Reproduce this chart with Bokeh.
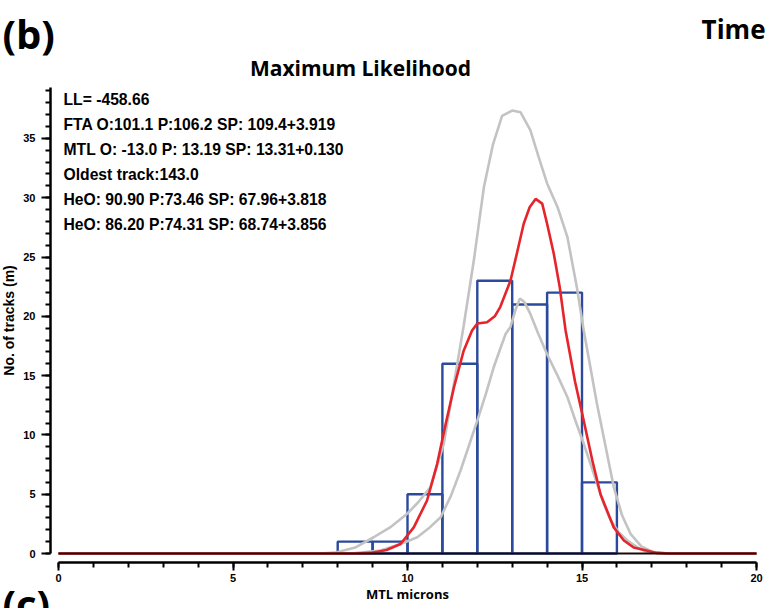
from bokeh.plotting import figure
from bokeh.models import Label, Range1d, SingleIntervalTicker, LinearAxis
from bokeh.embed import file_html
from bokeh.resources import INLINE

# ---- data ----
bin_left = [8, 9, 10, 11, 12, 13, 14, 15]
bin_right = [9, 10, 11, 12, 13, 14, 15, 16]
counts = [1, 1, 5, 16, 23, 21, 22, 6]

gray_big_x = [0, 7.5, 7.98, 8.5, 9.03, 9.5, 9.99, 10.3, 10.66, 11.04, 11.33, 11.61, 11.9, 12.19,
              12.45, 12.71, 13.0, 13.24, 13.52, 13.75, 14.0, 14.3, 14.58, 14.85, 15.05, 15.43,
              15.91, 16.15, 16.39, 16.7, 17.06, 17.5, 20]
gray_big_y = [0, 0, 0.1, 0.5, 1.37, 2.2, 3.35, 4.3, 5.6, 9.25, 14.3, 19.2, 24.7, 30.9,
              34.5, 36.9, 37.35, 37.2, 35.7, 33.5, 31.2, 29.2, 26.7, 22.5, 18.8, 12.6,
              5.6, 3.2, 1.66, 0.6, 0.1, 0, 0]

gray_small_x = [0, 8.0, 8.5, 9.23, 9.8, 10.28, 10.6, 10.95, 11.25, 11.52, 11.75, 12.0, 12.25, 12.47,
                12.65, 12.81, 12.95, 13.1, 13.22, 13.35, 13.52, 13.75, 14.0, 14.3, 14.58, 14.8,
                15.05, 15.25, 15.43, 15.62, 15.82, 16.05, 16.3, 16.6, 16.87, 17.3, 20]
gray_small_y = [0, 0, 0.03, 0.25, 0.8, 1.37, 2.1, 3.06, 4.9, 7.0, 9.0, 11.2, 13.5, 15.7,
                17.2, 18.5, 19.1, 20.6, 21.5, 21.2, 20.2, 18.5, 16.8, 15.0, 13.2, 11.3,
                9.25, 7.5, 5.9, 4.2, 2.8, 1.8, 1.1, 0.5, 0.1, 0, 0]

red_x = [0, 8.5, 8.94, 9.4, 9.8, 10.18, 10.56, 10.85, 11.1, 11.33, 11.61, 11.85, 12.0, 12.28,
         12.5, 12.66, 12.95, 13.15, 13.33, 13.5, 13.67, 13.86, 14.0, 14.19, 14.36, 14.53,
         14.8, 15.05, 15.3, 15.53, 15.91, 16.2, 16.48, 17.15, 17.5, 20]
red_y = [0, 0, 0.05, 0.3, 0.8, 2.2, 4.47, 7.56, 11.0, 14.0, 17.1, 18.8, 19.4, 19.5,
         20.0, 20.8, 23.0, 25.5, 27.8, 29.2, 29.9, 29.5, 27.8, 25.3, 22.5, 18.8,
         14.5, 11.2, 7.8, 5.0, 2.2, 1.1, 0.5, 0.05, 0, 0]

baseline_x = [0, 20]
baseline_y = [0, 0]

info_lines = [
    "LL= -458.66",
    "FTA O:101.1 P:106.2 SP: 109.4+3.919",
    "MTL O: -13.0 P: 13.19 SP: 13.31+0.130",
    "Oldest track:143.0",
    "HeO: 90.90 P:73.46 SP: 67.96+3.818",
    "HeO: 86.20 P:74.31 SP: 68.74+3.856",
]

title_text = "Maximum Likelihood"
x_label = "MTL microns"
y_label = "No. of tracks (m)"
panel_b = "(b)"
panel_c = "(c)"
time_text = "Time"

# ---- geometry: the frame fills the whole canvas; axes are drawn at fixed locations ----
W, H = 765, 608
X0_PX, PX_PER_X = 58.0, 34.9      # canvas x of data x=0, pixels per unit
Y0_PX, PX_PER_Y = 553.0, 11.86    # canvas y of data y=0, pixels per unit

def dx(cx):  # canvas px -> data x
    return (cx - X0_PX) / PX_PER_X

def dy(cy):  # canvas px (from top) -> data y
    return (Y0_PX - cy) / PX_PER_Y

BLUE = "#2c4a9c"
RED = "#e5242b"
GRAY = "#c3c3c3"

p = figure(width=W, height=H,
           x_range=Range1d(dx(0), dx(W)), y_range=Range1d(dy(H), dy(0)),
           output_backend="svg", toolbar_location=None,
           x_axis_type=None, y_axis_type=None, min_border=0)
p.title.visible = False
p.outline_line_color = None
p.grid.visible = False
p.background_fill_color = "white"
p.border_fill_color = "white"

p.quad(left=bin_left, right=bin_right, bottom=0, top=counts,
       fill_color=None, line_color=BLUE, line_width=2.4)
p.line(gray_big_x, gray_big_y, line_color=GRAY, line_width=2.6)
p.line(gray_small_x, gray_small_y, line_color=GRAY, line_width=2.6)
p.line(red_x, red_y, line_color=RED, line_width=2.6)
p.line(baseline_x, baseline_y, line_color="#1a0808", line_width=2.2)

TICKFONT = "Liberation Sans"
xaxis = LinearAxis(fixed_location=dy(562), bounds=(0, 20))
yaxis = LinearAxis(fixed_location=dx(50), bounds=(0, 39.3))
for ax in (xaxis, yaxis):
    ax.ticker = SingleIntervalTicker(interval=5, num_minor_ticks=5)
    ax.axis_line_width = 2.5
    ax.axis_line_color = "black"
    ax.major_tick_line_width = 2
    ax.minor_tick_line_width = 2
    ax.major_tick_in = 0
    ax.minor_tick_in = 0
    ax.minor_tick_out = 5
    ax.major_label_text_font = TICKFONT
    ax.major_label_text_font_style = "bold"
    ax.major_label_text_font_size = "11px"
    ax.major_label_text_color = "black"
    ax.axis_label_text_font_style = "bold"
    ax.axis_label_text_color = "black"

xaxis.major_tick_out = 8
yaxis.major_tick_out = 9
xaxis.major_label_standoff = 3
yaxis.major_label_standoff = 6
xaxis.axis_label = x_label
xaxis.axis_label_text_font = "Open Sans"
xaxis.axis_label_text_font_size = "13px"
xaxis.axis_label_standoff = 0
yaxis.axis_label = y_label
yaxis.axis_label_text_font = TICKFONT
yaxis.axis_label_text_font_size = "14px"
yaxis.axis_label_standoff = 3
p.add_layout(xaxis, "below")
p.add_layout(yaxis, "left")

# info text block
for i, t in enumerate(info_lines):
    cy = 98.7 + i * 25.1
    p.add_layout(Label(x=dx(63), y=dy(cy), text=t, text_font=TICKFONT,
                       text_font_style="bold", text_font_size="15.7px", text_color="black",
                       text_baseline="middle", text_align="left"))

def page_label(sx, sy, text, size, align):
    p.add_layout(Label(x=dx(sx), y=dy(sy), text=text, text_font="Open Sans",
                       text_font_style="bold", text_font_size=size, text_color="black",
                       text_align=align, text_baseline="middle"))

page_label(360, 67.5, title_text, "21px", "center")
page_label(765, 28.5, time_text, "26px", "right")
page_label(2, 32.5, panel_b, "40px", "left")
page_label(2, 603, panel_c, "40px", "left")

open("out.html", "w").write(file_html(p, INLINE))
